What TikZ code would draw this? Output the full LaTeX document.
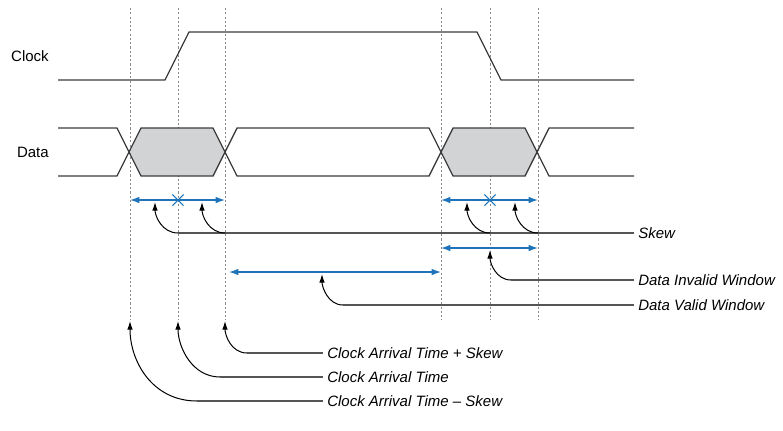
\documentclass[tikz,border=0pt]{standalone}
\usepackage{fontspec}
\setmainfont{Liberation Sans}
\usetikzlibrary{arrows.meta,shapes.misc}

\definecolor{wavegray}{RGB}{60,60,60}
\definecolor{leadgray}{RGB}{85,85,85}
\definecolor{gridgray}{RGB}{140,140,140}
\definecolor{skewblue}{RGB}{30,115,185}
\definecolor{eyefill}{RGB}{210,211,213}

\tikzset{
  wave/.style={draw=wavegray, line width=1pt, line join=miter},
  gridline/.style={draw=gridgray, line width=0.6pt, dash pattern=on 1.6pt off 1.6pt},
  spanarr/.style={draw=skewblue, line width=1pt, {Latex[length=7pt,width=5pt]}-{Latex[length=7pt,width=5pt]}},
  midmark/.style={cross out, draw=skewblue, line width=0.8pt, minimum size=7.5pt, inner sep=0pt},
  leader/.style={draw=leadgray, line width=1pt},
  pointer/.style={draw=black, line width=0.75pt, -{Latex[length=6.5pt,width=4.2pt]}},
  sig/.style={anchor=east, inner sep=0pt, font=\fontsize{11.25pt}{13pt}\selectfont},
  note/.style={anchor=west, inner xsep=3pt, inner ysep=0pt, font=\fontsize{11.25pt}{13pt}\selectfont\itshape},
}

\begin{document}
\begin{tikzpicture}[x=0.75pt,y=0.75pt,yscale=-1,xscale=1]
\path (0,0) rectangle (783,430); %keep the page at 783 x 430

% edge times and rows
\foreach \n/\x in {ta/130,tb/178,tc/225,td/441,te/490,tf/538}{
  \coordinate (\n) at (\x,8);
  \coordinate (\n bot) at (\x,320);
}
\coordinate (rowskew) at (0,200);
\coordinate (rowinv) at (0,248);
\coordinate (rowval) at (0,272);
\coordinate (rowtip) at (0,321);

%Dashed Lines
\foreach \n in {ta,tb,tc,td,te,tf}
  \draw [gridline] (\n) -- (\n bot);

%Shape: Eyes
\fill [eyefill] (ta |- 0,152) -- (141,128) -- (213,128) -- (tc |- 0,152) -- (213,176) -- (141,176) -- cycle;
\fill [eyefill] (td |- 0,152) -- (453,128) -- (525,128) -- (tf |- 0,152) -- (525,176) -- (453,176) -- cycle;

%Waves
\draw [wave] (58,80) -- (165,80) -- (189,32) -- (477,32) -- (501,80) -- (634,80);
\draw [wave] (58,128) -- (117,128) -- (141,176) -- (213,176) -- (237,128) -- (429,128) -- (453,176) -- (525,176) -- (549,128) -- (634,128);
\draw [wave] (58,176) -- (117,176) -- (141,128) -- (213,128) -- (237,176) -- (429,176) -- (453,128) -- (525,128) -- (549,176) -- (634,176);

% Text Node
\node [sig] (clk) at (49,56) {Clock};
% Text Node
\node [sig] (dat) at (49,152) {Data};

%Spans
\draw [spanarr] (ta |- rowskew) -- (tc |- rowskew);
\draw [spanarr] (td |- rowskew) -- (tf |- rowskew);
\draw [spanarr] (td |- rowinv) -- (tf |- rowinv);
\draw [spanarr] ([xshift=3pt]tc |- rowval) -- (td |- rowval);
\node [midmark] (mk1) at (tb |- rowskew) {};
\node [midmark] (mk2) at (te |- rowskew) {};

% Text Node
\node [note] (skew) at (634,233) {Skew};
\node [note] (inv) at (634,280) {Data Invalid Window};
\node [note] (val) at (634,305) {Data Valid Window};
\node [note] (cps) at (323,353) {Clock Arrival Time + Skew};
\node [note] (cat) at (323,377) {Clock Arrival Time};
\node [note] (cms) at (323,401) {Clock Arrival Time -- Skew};

% tips
\coordinate (sk1) at (155,202);
\coordinate (sk2) at (202,202);
\coordinate (sk3) at (467,202);
\coordinate (sk4) at (515,202);
\coordinate (iv1) at (te |- 0,250);
\coordinate (vl1) at (322,274);

%Leader Lines
\draw [leader] (skew.west) -- (tb |- skew.west);
\draw [leader] (inv.west) -- (511,280);
\draw [leader] (val.west) -- (343,305);
\draw [leader] (cps.west) -- (247,353);
\draw [leader] (cat.west) -- (220,377);
\draw [leader] (cms.west) -- (197,401);

%Curve Lines
\draw [pointer] (tb |- skew.west) .. controls +(-16,0) and +(0,14) .. (sk1);
\draw [pointer] (tc |- skew.west) .. controls +(-16,0) and +(0,14) .. (sk2);
\draw [pointer] (te |- skew.west) .. controls +(-16,0) and +(0,14) .. (sk3);
\draw [pointer] (tf |- skew.west) .. controls +(-16,0) and +(0,14) .. (sk4);
\draw [pointer] (511,280) .. controls +(-15,0) and +(0,13) .. (iv1);
\draw [pointer] (343,305) .. controls +(-15,0) and +(0,13) .. (vl1);
\draw [pointer] (247,353) .. controls +(-16,0) and +(0,14) .. (tc |- rowtip);
\draw [pointer] (220,377) .. controls +(-28,0) and +(0,26) .. (tb |- rowtip);
\draw [pointer] (197,401) .. controls +(-45,0) and +(0,40) .. (ta |- rowtip);

\end{tikzpicture}
\end{document}
